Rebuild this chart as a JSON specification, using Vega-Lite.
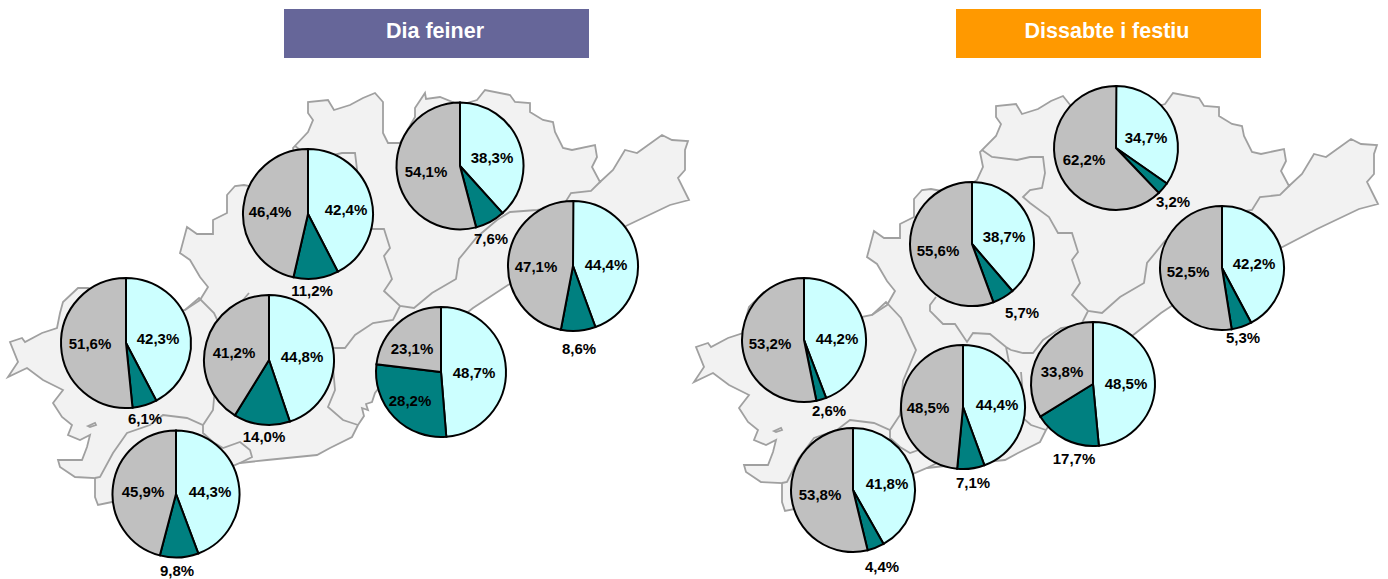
{
"$schema":"https://vega.github.io/schema/vega-lite/v6.json",
"width":1388,"height":579,"padding":0,"autosize":{"type":"none"},"background":"white",
"config":{"view":{"stroke":null}},
"datasets":{
"outline":[{"type":"Feature","properties":{"n":"territori"},"geometry":{"type":"Polygon","coordinates":[[[8,377],[18,362],[10,342],[22,338],[25,342],[42,333],[57,328],[60,313],[63,302],[78,288],[88,288],[120,300],[160,315],[185,310],[200,300],[208,287],[200,277],[190,260],[180,253],[187,227],[197,234],[213,234],[213,220],[227,213],[227,195],[235,186],[244,185],[270,190],[290,176],[296,163],[293,148],[308,132],[313,120],[308,113],[308,102],[328,100],[334,110],[350,105],[363,98],[375,93],[383,102],[383,133],[388,143],[400,143],[415,117],[415,108],[425,93],[426,99],[440,97],[460,105],[477,100],[485,90],[510,95],[515,102],[530,103],[530,112],[543,120],[553,122],[555,132],[563,148],[572,150],[595,145],[597,157],[592,167],[600,182],[613,170],[625,150],[637,153],[662,135],[672,140],[688,141],[685,150],[685,170],[678,178],[689,200],[670,205],[628,225],[580,250],[530,275],[508,285],[473,308],[420,350],[385,380],[375,393],[372,402],[366,404],[368,410],[362,408],[364,416],[358,425],[352,437],[330,448],[317,455],[267,460],[240,463],[200,480],[150,495],[112,502],[98,505],[95,497],[95,478],[75,477],[60,467],[58,460],[82,460],[87,447],[90,435],[80,440],[68,435],[72,425],[62,417],[53,403],[63,390],[43,380],[27,368],[8,377]]]}},
{"type":"Feature","properties":{"n":"illa"},"geometry":{"type":"Polygon","coordinates":[[[88,426],[95,423],[96,425],[90,427],[88,426]]]}},
{"type":"Feature","properties":{"n":"territori 2"},"geometry":{"type":"Polygon","coordinates":[[[694,382],[704,367],[696,347],[708,343],[711,347],[728,338],[743,333],[746,318],[749,307],[764,292],[774,292],[807,305],[847,320],[872,315],[887,305],[895,291],[887,281],[877,264],[867,257],[874,231],[884,238],[900,238],[900,224],[914,217],[914,199],[922,190],[931,189],[957,194],[977,180],[983,167],[980,152],[996,136],[1001,124],[996,117],[996,106],[1016,104],[1022,114],[1038,109],[1051,101],[1063,96],[1071,106],[1071,137],[1076,147],[1088,147],[1103,121],[1103,112],[1113,96],[1114,102],[1128,100],[1148,109],[1165,104],[1173,93],[1199,98],[1204,106],[1219,107],[1219,116],[1232,124],[1242,126],[1244,136],[1252,152],[1261,154],[1284,149],[1286,161],[1281,171],[1289,186],[1302,174],[1314,154],[1326,157],[1351,139],[1361,144],[1377,145],[1374,154],[1374,174],[1367,182],[1378,204],[1359,209],[1317,229],[1269,254],[1219,279],[1197,289],[1161,313],[1108,355],[1073,385],[1063,398],[1060,407],[1054,409],[1056,415],[1050,413],[1052,421],[1046,430],[1040,442],[1018,453],[1005,460],[954,465],[927,468],[887,485],[837,500],[799,508],[785,511],[782,502],[782,483],[761,482],[746,472],[744,465],[768,465],[773,452],[776,440],[766,445],[754,440],[758,430],[748,422],[739,408],[749,395],[729,385],[713,373],[694,382]]]}},
{"type":"Feature","properties":{"n":"illa 2"},"geometry":{"type":"Polygon","coordinates":[[[774,431],[781,428],[782,430],[776,432],[774,431]]]}}],
"borders":[{"type":"Feature","properties":{"n":"limits"},"geometry":{"type":"MultiLineString","coordinates":[
[[95,478],[100,477],[113,453],[127,433],[150,425],[163,415],[187,418],[203,425],[213,410],[216,376],[229,345],[214,313],[199,298],[185,310]],
[[203,425],[203,433],[213,442],[223,448],[240,442],[250,450],[252,457],[240,463]],
[[295,146],[304,153],[329,156],[342,153],[355,153],[357,169],[354,184],[342,186],[335,193],[342,199],[361,213],[370,229],[384,229],[390,248],[384,256],[392,279],[384,291],[400,306],[414,308],[432,293],[456,279],[459,259],[477,237],[497,220],[510,212],[537,210],[563,206],[571,193],[591,191],[601,181]],
[[400,306],[393,320],[373,323],[355,335],[345,348],[335,348],[323,345],[318,342],[302,329],[285,328],[280,337],[268,319],[256,319],[243,306],[243,300],[249,293]],
[[321,357],[318,342]],
[[333,367],[335,390],[328,407],[343,420],[358,425]],
[[782,483],[787,482],[799,458],[814,438],[837,430],[850,420],[874,423],[890,430],[900,415],[903,381],[916,350],[901,318],[886,302],[872,315]],
[[890,430],[890,438],[900,447],[910,453],[927,447],[937,455],[939,462],[927,468]],
[[982,150],[992,157],[1017,160],[1030,157],[1043,157],[1045,173],[1042,188],[1030,190],[1023,197],[1030,203],[1049,217],[1058,233],[1072,233],[1078,252],[1072,260],[1080,283],[1072,295],[1088,311],[1102,313],[1120,297],[1144,283],[1147,263],[1165,241],[1186,224],[1199,216],[1226,214],[1252,210],[1260,197],[1280,195],[1290,185]],
[[1088,311],[1081,325],[1061,328],[1043,340],[1033,353],[1023,353],[1011,350],[1006,347],[990,334],[973,333],[967,342],[955,324],[943,324],[930,311],[930,305],[936,297]],
[[1009,362],[1006,347]],
[[1021,372],[1023,395],[1016,412],[1031,425],[1046,430]]
]}}],
"pies":[
{"panel":"Dia feiner","pie":"A1","cx":460,"cy":166,"serie":"a","v":38.3,"label":"38,3%","lx":492,"ly":158},
{"panel":"Dia feiner","pie":"A1","cx":460,"cy":166,"serie":"b","v":7.6,"label":"7,6%","lx":491,"ly":239},
{"panel":"Dia feiner","pie":"A1","cx":460,"cy":166,"serie":"c","v":54.1,"label":"54,1%","lx":426,"ly":172},
{"panel":"Dia feiner","pie":"A2","cx":308,"cy":214,"serie":"a","v":42.4,"label":"42,4%","lx":346,"ly":210},
{"panel":"Dia feiner","pie":"A2","cx":308,"cy":214,"serie":"b","v":11.2,"label":"11,2%","lx":312,"ly":291},
{"panel":"Dia feiner","pie":"A2","cx":308,"cy":214,"serie":"c","v":46.4,"label":"46,4%","lx":270,"ly":212},
{"panel":"Dia feiner","pie":"A3","cx":573,"cy":266,"serie":"a","v":44.4,"label":"44,4%","lx":606,"ly":265},
{"panel":"Dia feiner","pie":"A3","cx":573,"cy":266,"serie":"b","v":8.6,"label":"8,6%","lx":579,"ly":349},
{"panel":"Dia feiner","pie":"A3","cx":573,"cy":266,"serie":"c","v":47.1,"label":"47,1%","lx":536,"ly":267},
{"panel":"Dia feiner","pie":"A4","cx":126,"cy":343,"serie":"a","v":42.3,"label":"42,3%","lx":158,"ly":339},
{"panel":"Dia feiner","pie":"A4","cx":126,"cy":343,"serie":"b","v":6.1,"label":"6,1%","lx":145,"ly":419},
{"panel":"Dia feiner","pie":"A4","cx":126,"cy":343,"serie":"c","v":51.6,"label":"51,6%","lx":90,"ly":344},
{"panel":"Dia feiner","pie":"A5","cx":269,"cy":360,"serie":"a","v":44.8,"label":"44,8%","lx":302,"ly":357},
{"panel":"Dia feiner","pie":"A5","cx":269,"cy":360,"serie":"b","v":14.0,"label":"14,0%","lx":264,"ly":437},
{"panel":"Dia feiner","pie":"A5","cx":269,"cy":360,"serie":"c","v":41.2,"label":"41,2%","lx":234,"ly":353},
{"panel":"Dia feiner","pie":"A6","cx":441,"cy":372,"serie":"a","v":48.7,"label":"48,7%","lx":474,"ly":373},
{"panel":"Dia feiner","pie":"A6","cx":441,"cy":372,"serie":"b","v":28.2,"label":"28,2%","lx":410,"ly":401},
{"panel":"Dia feiner","pie":"A6","cx":441,"cy":372,"serie":"c","v":23.1,"label":"23,1%","lx":412,"ly":349},
{"panel":"Dia feiner","pie":"A7","cx":176,"cy":494,"serie":"a","v":44.3,"label":"44,3%","lx":210,"ly":492},
{"panel":"Dia feiner","pie":"A7","cx":176,"cy":494,"serie":"b","v":9.8,"label":"9,8%","lx":177,"ly":571},
{"panel":"Dia feiner","pie":"A7","cx":176,"cy":494,"serie":"c","v":45.9,"label":"45,9%","lx":143,"ly":492},
{"panel":"Dissabte i festiu","pie":"B1","cx":1116,"cy":148,"serie":"a","v":34.7,"label":"34,7%","lx":1146,"ly":138},
{"panel":"Dissabte i festiu","pie":"B1","cx":1116,"cy":148,"serie":"b","v":3.2,"label":"3,2%","lx":1173,"ly":202},
{"panel":"Dissabte i festiu","pie":"B1","cx":1116,"cy":148,"serie":"c","v":62.2,"label":"62,2%","lx":1084,"ly":160},
{"panel":"Dissabte i festiu","pie":"B2","cx":972,"cy":244,"serie":"a","v":38.7,"label":"38,7%","lx":1004,"ly":237},
{"panel":"Dissabte i festiu","pie":"B2","cx":972,"cy":244,"serie":"b","v":5.7,"label":"5,7%","lx":1022,"ly":313},
{"panel":"Dissabte i festiu","pie":"B2","cx":972,"cy":244,"serie":"c","v":55.6,"label":"55,6%","lx":938,"ly":251},
{"panel":"Dissabte i festiu","pie":"B3","cx":1222,"cy":268,"serie":"a","v":42.2,"label":"42,2%","lx":1254,"ly":264},
{"panel":"Dissabte i festiu","pie":"B3","cx":1222,"cy":268,"serie":"b","v":5.3,"label":"5,3%","lx":1243,"ly":338},
{"panel":"Dissabte i festiu","pie":"B3","cx":1222,"cy":268,"serie":"c","v":52.5,"label":"52,5%","lx":1188,"ly":272},
{"panel":"Dissabte i festiu","pie":"B4","cx":804,"cy":340,"serie":"a","v":44.2,"label":"44,2%","lx":837,"ly":339},
{"panel":"Dissabte i festiu","pie":"B4","cx":804,"cy":340,"serie":"b","v":2.6,"label":"2,6%","lx":829,"ly":411},
{"panel":"Dissabte i festiu","pie":"B4","cx":804,"cy":340,"serie":"c","v":53.2,"label":"53,2%","lx":770,"ly":344},
{"panel":"Dissabte i festiu","pie":"B5","cx":963,"cy":407,"serie":"a","v":44.4,"label":"44,4%","lx":997,"ly":405},
{"panel":"Dissabte i festiu","pie":"B5","cx":963,"cy":407,"serie":"b","v":7.1,"label":"7,1%","lx":973,"ly":483},
{"panel":"Dissabte i festiu","pie":"B5","cx":963,"cy":407,"serie":"c","v":48.5,"label":"48,5%","lx":928,"ly":408},
{"panel":"Dissabte i festiu","pie":"B6","cx":1093,"cy":384,"serie":"a","v":48.5,"label":"48,5%","lx":1126,"ly":384},
{"panel":"Dissabte i festiu","pie":"B6","cx":1093,"cy":384,"serie":"b","v":17.7,"label":"17,7%","lx":1074,"ly":459},
{"panel":"Dissabte i festiu","pie":"B6","cx":1093,"cy":384,"serie":"c","v":33.8,"label":"33,8%","lx":1062,"ly":372},
{"panel":"Dissabte i festiu","pie":"B7","cx":853,"cy":490,"serie":"a","v":41.8,"label":"41,8%","lx":887,"ly":484},
{"panel":"Dissabte i festiu","pie":"B7","cx":853,"cy":490,"serie":"b","v":4.4,"label":"4,4%","lx":882,"ly":567},
{"panel":"Dissabte i festiu","pie":"B7","cx":853,"cy":490,"serie":"c","v":53.8,"label":"53,8%","lx":820,"ly":495}
],
"heads":[
{"title":"Dia feiner","x0":284,"x1":589,"y0":9,"y1":58,"xm":435,"ym":32},
{"title":"Dissabte i festiu","x0":956,"x1":1261,"y0":9,"y1":58,"xm":1107,"ym":32}
]
},
"layer":[
{"data":{"name":"outline"},"mark":{"type":"geoshape","fill":"#F2F2F2","stroke":"#A0A0A0","strokeWidth":1.8},"projection":{"type":"identity","scale":1,"translate":[0,0]}},
{"data":{"name":"borders"},"mark":{"type":"geoshape","filled":false,"fill":null,"stroke":"#A0A0A0","strokeWidth":1.8},"projection":{"type":"identity","scale":1,"translate":[0,0]}},
{"data":{"name":"heads"},"mark":{"type":"rect"},
 "encoding":{
  "x":{"field":"x0","type":"quantitative","scale":{"domain":[0,1388],"nice":false,"zero":false},"axis":null},
  "x2":{"field":"x1"},
  "y":{"field":"y0","type":"quantitative","scale":{"domain":[0,579],"range":[0,579],"nice":false,"zero":false},"axis":null},
  "y2":{"field":"y1"},
  "color":{"field":"title","type":"nominal","scale":{"domain":["Dia feiner","Dissabte i festiu"],"range":["#666699","#FF9900"]},"legend":null}}},
{"data":{"name":"heads"},"mark":{"type":"text","font":"Liberation Sans","fontWeight":"bold","fontSize":21.5,"color":"white","align":"center","baseline":"middle"},
 "encoding":{
  "x":{"field":"xm","type":"quantitative","scale":{"domain":[0,1388],"nice":false,"zero":false},"axis":null},
  "y":{"field":"ym","type":"quantitative","scale":{"domain":[0,579],"range":[0,579],"nice":false,"zero":false},"axis":null},
  "text":{"field":"title"}}},
{"data":{"name":"pies"},
 "transform":[{"filter":"datum.panel==='Dia feiner' && datum.pie!=='A1' && datum.pie!=='A7'"},{"stack":"v","groupby":["pie"],"sort":[{"field":"serie","order":"ascending"}],"as":["t0","t1"]}],
 "mark":{"type":"arc","radius":65,"stroke":"black","strokeWidth":2},
 "encoding":{
  "x":{"field":"cx","type":"quantitative","scale":{"domain":[0,1388],"nice":false,"zero":false},"axis":null},
  "y":{"field":"cy","type":"quantitative","scale":{"domain":[0,579],"range":[0,579],"nice":false,"zero":false},"axis":null},
  "theta":{"field":"t0","type":"quantitative","scale":{"domain":[0,100],"range":[0,6.283185307]}},
  "theta2":{"field":"t1"},
  "fill":{"field":"serie","type":"nominal","scale":{"domain":["a","b","c"],"range":["#CCFFFF","#008080","#C0C0C0"]},"legend":null}}},
{"data":{"name":"pies"},
 "transform":[{"filter":"datum.pie==='A1' || datum.pie==='A7'"},{"stack":"v","groupby":["pie"],"sort":[{"field":"serie","order":"ascending"}],"as":["t0","t1"]}],
 "mark":{"type":"arc","radius":63.5,"stroke":"black","strokeWidth":2},
 "encoding":{
  "x":{"field":"cx","type":"quantitative","scale":{"domain":[0,1388],"nice":false,"zero":false},"axis":null},
  "y":{"field":"cy","type":"quantitative","scale":{"domain":[0,579],"range":[0,579],"nice":false,"zero":false},"axis":null},
  "theta":{"field":"t0","type":"quantitative","scale":{"domain":[0,100],"range":[0,6.283185307]}},
  "theta2":{"field":"t1"},
  "fill":{"field":"serie","type":"nominal","scale":{"domain":["a","b","c"],"range":["#CCFFFF","#008080","#C0C0C0"]},"legend":null}}},
{"data":{"name":"pies"},
 "transform":[{"filter":"datum.panel!=='Dia feiner'"},{"stack":"v","groupby":["pie"],"sort":[{"field":"serie","order":"ascending"}],"as":["t0","t1"]}],
 "mark":{"type":"arc","radius":62,"stroke":"black","strokeWidth":2},
 "encoding":{
  "x":{"field":"cx","type":"quantitative","scale":{"domain":[0,1388],"nice":false,"zero":false},"axis":null},
  "y":{"field":"cy","type":"quantitative","scale":{"domain":[0,579],"range":[0,579],"nice":false,"zero":false},"axis":null},
  "theta":{"field":"t0","type":"quantitative","scale":{"domain":[0,100],"range":[0,6.283185307]}},
  "theta2":{"field":"t1"},
  "fill":{"field":"serie","type":"nominal","scale":{"domain":["a","b","c"],"range":["#CCFFFF","#008080","#C0C0C0"]},"legend":null}}},
{"data":{"name":"pies"},"mark":{"type":"text","font":"Liberation Sans","fontWeight":"bold","fontSize":15,"color":"black","align":"center","baseline":"middle"},
 "encoding":{
  "x":{"field":"lx","type":"quantitative","scale":{"domain":[0,1388],"nice":false,"zero":false},"axis":null},
  "y":{"field":"ly","type":"quantitative","scale":{"domain":[0,579],"range":[0,579],"nice":false,"zero":false},"axis":null},
  "text":{"field":"label"}}}
]
}
